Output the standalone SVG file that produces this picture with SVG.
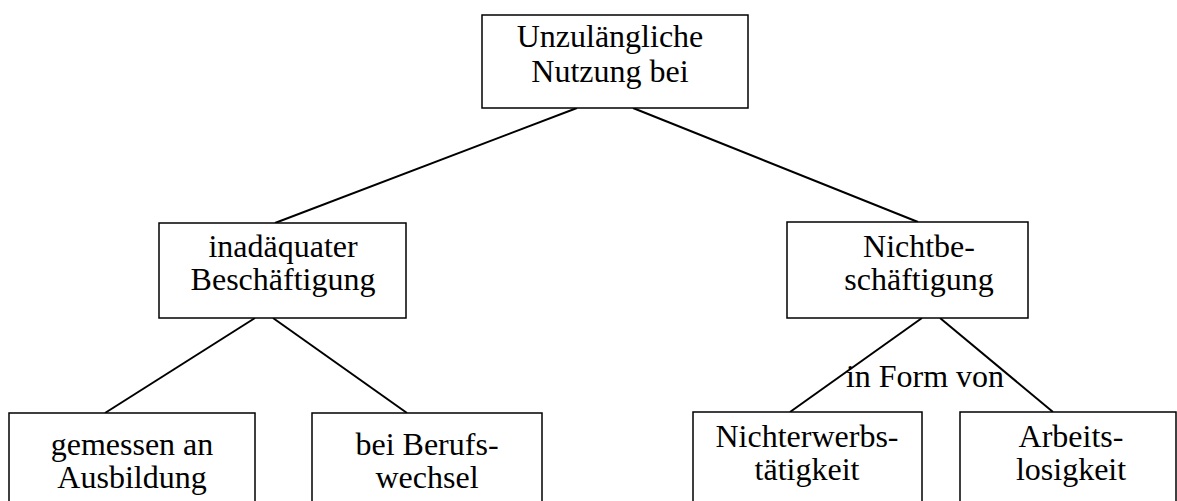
<svg xmlns="http://www.w3.org/2000/svg" width="1177" height="501" viewBox="0 0 1177 501">
<style>
.box{fill:#fff;stroke:#000;stroke-width:1.5}
.t{font-family:"Liberation Serif","Times New Roman",serif;font-size:32px;fill:#000;text-anchor:middle}
.c{stroke:#000;stroke-width:2;fill:none}
</style>
<rect width="1177" height="501" fill="#fff"/>
<g id="connectors">
<line class="c" x1="577" y1="108" x2="275" y2="223"/>
<line class="c" x1="633" y1="108" x2="918" y2="222"/>
<line class="c" x1="255" y1="318" x2="105" y2="413"/>
<line class="c" x1="273" y1="318" x2="407" y2="413"/>
<line class="c" x1="922" y1="318" x2="790" y2="412"/>
<line class="c" x1="940" y1="318" x2="1053" y2="412"/>
<text class="t" x="925" y="387">in Form von</text>
</g>
<g id="root">
<rect class="box" x="482" y="15" width="266" height="93"/>
<text class="t" x="610" y="47">Unzulängliche</text>
<text class="t" x="610" y="82">Nutzung bei</text>
</g>
<g id="inadaequat">
<rect class="box" x="159" y="223" width="247" height="95"/>
<text class="t" x="283" y="257">inadäquater</text>
<text class="t" x="283" y="290">Beschäftigung</text>
</g>
<g id="nichtbeschaeftigung">
<rect class="box" x="787" y="222" width="241" height="96"/>
<text class="t" x="919" y="257">Nichtbe-</text>
<text class="t" x="919" y="290">schäftigung</text>
</g>
<g id="ausbildung">
<rect class="box" x="9" y="413" width="246" height="100"/>
<text class="t" x="132" y="455">gemessen an</text>
<text class="t" x="132" y="488">Ausbildung</text>
</g>
<g id="berufswechsel">
<rect class="box" x="312" y="413" width="230" height="100"/>
<text class="t" x="427" y="455">bei Berufs-</text>
<text class="t" x="427" y="488">wechsel</text>
</g>
<g id="nichterwerbstaetigkeit">
<rect class="box" x="693" y="412" width="229" height="100"/>
<text class="t" x="807" y="447">Nichterwerbs-</text>
<text class="t" x="807" y="480">tätigkeit</text>
</g>
<g id="arbeitslosigkeit">
<rect class="box" x="960" y="412" width="216" height="100"/>
<text class="t" x="1071" y="447">Arbeits-</text>
<text class="t" x="1071" y="480">losigkeit</text>
</g>
</svg>
